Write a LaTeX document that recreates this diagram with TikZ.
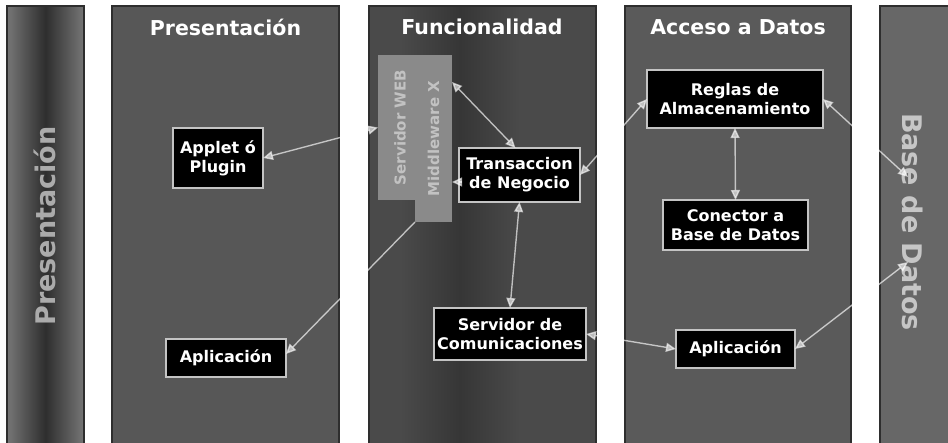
\documentclass[tikz,border=0pt]{standalone}
\usepackage{fontspec}
\setmainfont{DejaVu Sans}
\usetikzlibrary{arrows.meta,calc}
\definecolor{stripL}{HTML}{767676}
\definecolor{stripD}{HTML}{2E2E2E}
\definecolor{panelP}{HTML}{575757}
\definecolor{panelF}{HTML}{4A4A4A}
\definecolor{panelFd}{HTML}{363636}
\definecolor{panelA}{HTML}{5A5A5A}
\definecolor{panelB}{HTML}{676767}
\definecolor{panelEdge}{HTML}{2E2E2E}
\definecolor{boxEdge}{HTML}{C4C4C4}
\definecolor{grayBox}{HTML}{8A8A8A}
\definecolor{grayText}{HTML}{C2C2C2}
\definecolor{stripTextP}{HTML}{ABABAB}
\definecolor{stripTextB}{HTML}{C6C6C6}
\begin{document}
\begin{tikzpicture}[x=1pt,y=-1pt,
  panel/.style={draw=panelEdge, line width=1.2pt},
  box/.style={draw=boxEdge, fill=black, text=white, line width=1.1pt,
    font=\bfseries\fontsize{16}{19}\selectfont, align=center,
    inner sep=0pt, outer sep=0pt},
  graybox/.style={fill=grayBox, text=grayText, inner sep=0pt, outer sep=0pt,
    font=\bfseries\fontsize{15}{17}\selectfont},
  title/.style={text=white, font=\bfseries\fontsize{20.5}{23}\selectfont},
  striptext/.style={font=\bfseries\fontsize{27}{30}\selectfont},
  link/.style={draw=white, fill=white, opacity=0.62, line width=1.4pt,
    {Triangle[width=9pt,length=10pt]}-{Triangle[width=9pt,length=10pt]}},
  linkone/.style={draw=white, fill=white, opacity=0.62, line width=1.4pt,
    -{Triangle[width=9pt,length=10pt]}}
]
\useasboundingbox (0,0) rectangle (948,443);
\fill[white] (0,0) rectangle (948,443);

% panels
\shade[left color=stripL, right color=stripL, middle color=stripD] (7,6) rectangle (84,445);
\draw[panel] (7,6) rectangle (84,445);
\fill[panelP] (112,6) rectangle (339,445);
\draw[panel] (112,6) rectangle (339,445);
\fill[panelF] (369,6) rectangle (596,445);
\shade[left color=panelF, right color=panelF, middle color=panelFd] (400,6) rectangle (520,445);
\draw[panel] (369,6) rectangle (596,445);
\fill[panelA] (625,6) rectangle (851,445);
\draw[panel] (625,6) rectangle (851,445);
\fill[panelB] (880,6) rectangle (950,445);
\draw[panel] (880,6) rectangle (950,445);

% titles
\node[title] (tP) at (225.5,27) {Presentación};
\node[title] (tF) at (482,27) {Funcionalidad};
\node[title] (tA) at (738,27) {Acceso a Datos};

% strip texts
\node[striptext, text=stripTextP, rotate=90] (sP) at (45,226) {Presentación};
\node[striptext, text=stripTextB, rotate=-90] (sB) at (913,222) {Base de Datos};

% gray boxes
\node[graybox, minimum width=44pt, minimum height=145pt] (web) at (400,127.5) {\rotatebox{90}{Servidor WEB}};
\node[graybox, minimum width=37pt, minimum height=167pt] (mw) at (433.5,138.5) {\rotatebox{90}{Middleware X}};

% black boxes
\node[box, minimum width=90pt, minimum height=60pt] (applet) at (218,158) {Applet ó\\Plugin};
\node[box, minimum width=120pt, minimum height=38pt] (aplic1) at (226,358) {Aplicación};
\node[box, minimum width=121pt, minimum height=54pt] (trans) at (519.5,175) {Transaccion\\de Negocio};
\node[box, minimum width=152pt, minimum height=52pt] (servcom) at (510,334) {Servidor de\\Comunicaciones};
\node[box, minimum width=176pt, minimum height=58pt] (reglas) at (735,99) {Reglas de\\Almacenamiento};
\node[box, minimum width=145pt, minimum height=50pt] (conector) at (735.5,225) {Conector a\\Base de Datos};
\node[box, minimum width=119pt, minimum height=38pt] (aplic2) at (735.5,349) {Aplicación};

% free ends in the database strip
\coordinate (bd1) at (908,177);
\coordinate (bd2) at (908,262);

% connectors
\draw[link] (applet.east) -- (web.west);
\draw[link] ([yshift=-27pt]mw.north east) -- ([xshift=-4pt]trans.north);
\draw[linkone] ([yshift=-7pt]trans.west) -- ([yshift=-7pt]trans.west -| mw.east);
\draw[linkone] (mw.south west) -- ([yshift=4pt]aplic1.east);
\draw[link] (trans.south) -- (servcom.north);
\draw[link] (trans.east) -- (reglas.west);
\draw[link] (servcom.east) -- (aplic2.west);
\draw[link] (reglas.south) -- (conector.north);
\draw[link] (reglas.east) -- (bd1);
\draw[link] (aplic2.east) -- (bd2);
\end{tikzpicture}
\end{document}
